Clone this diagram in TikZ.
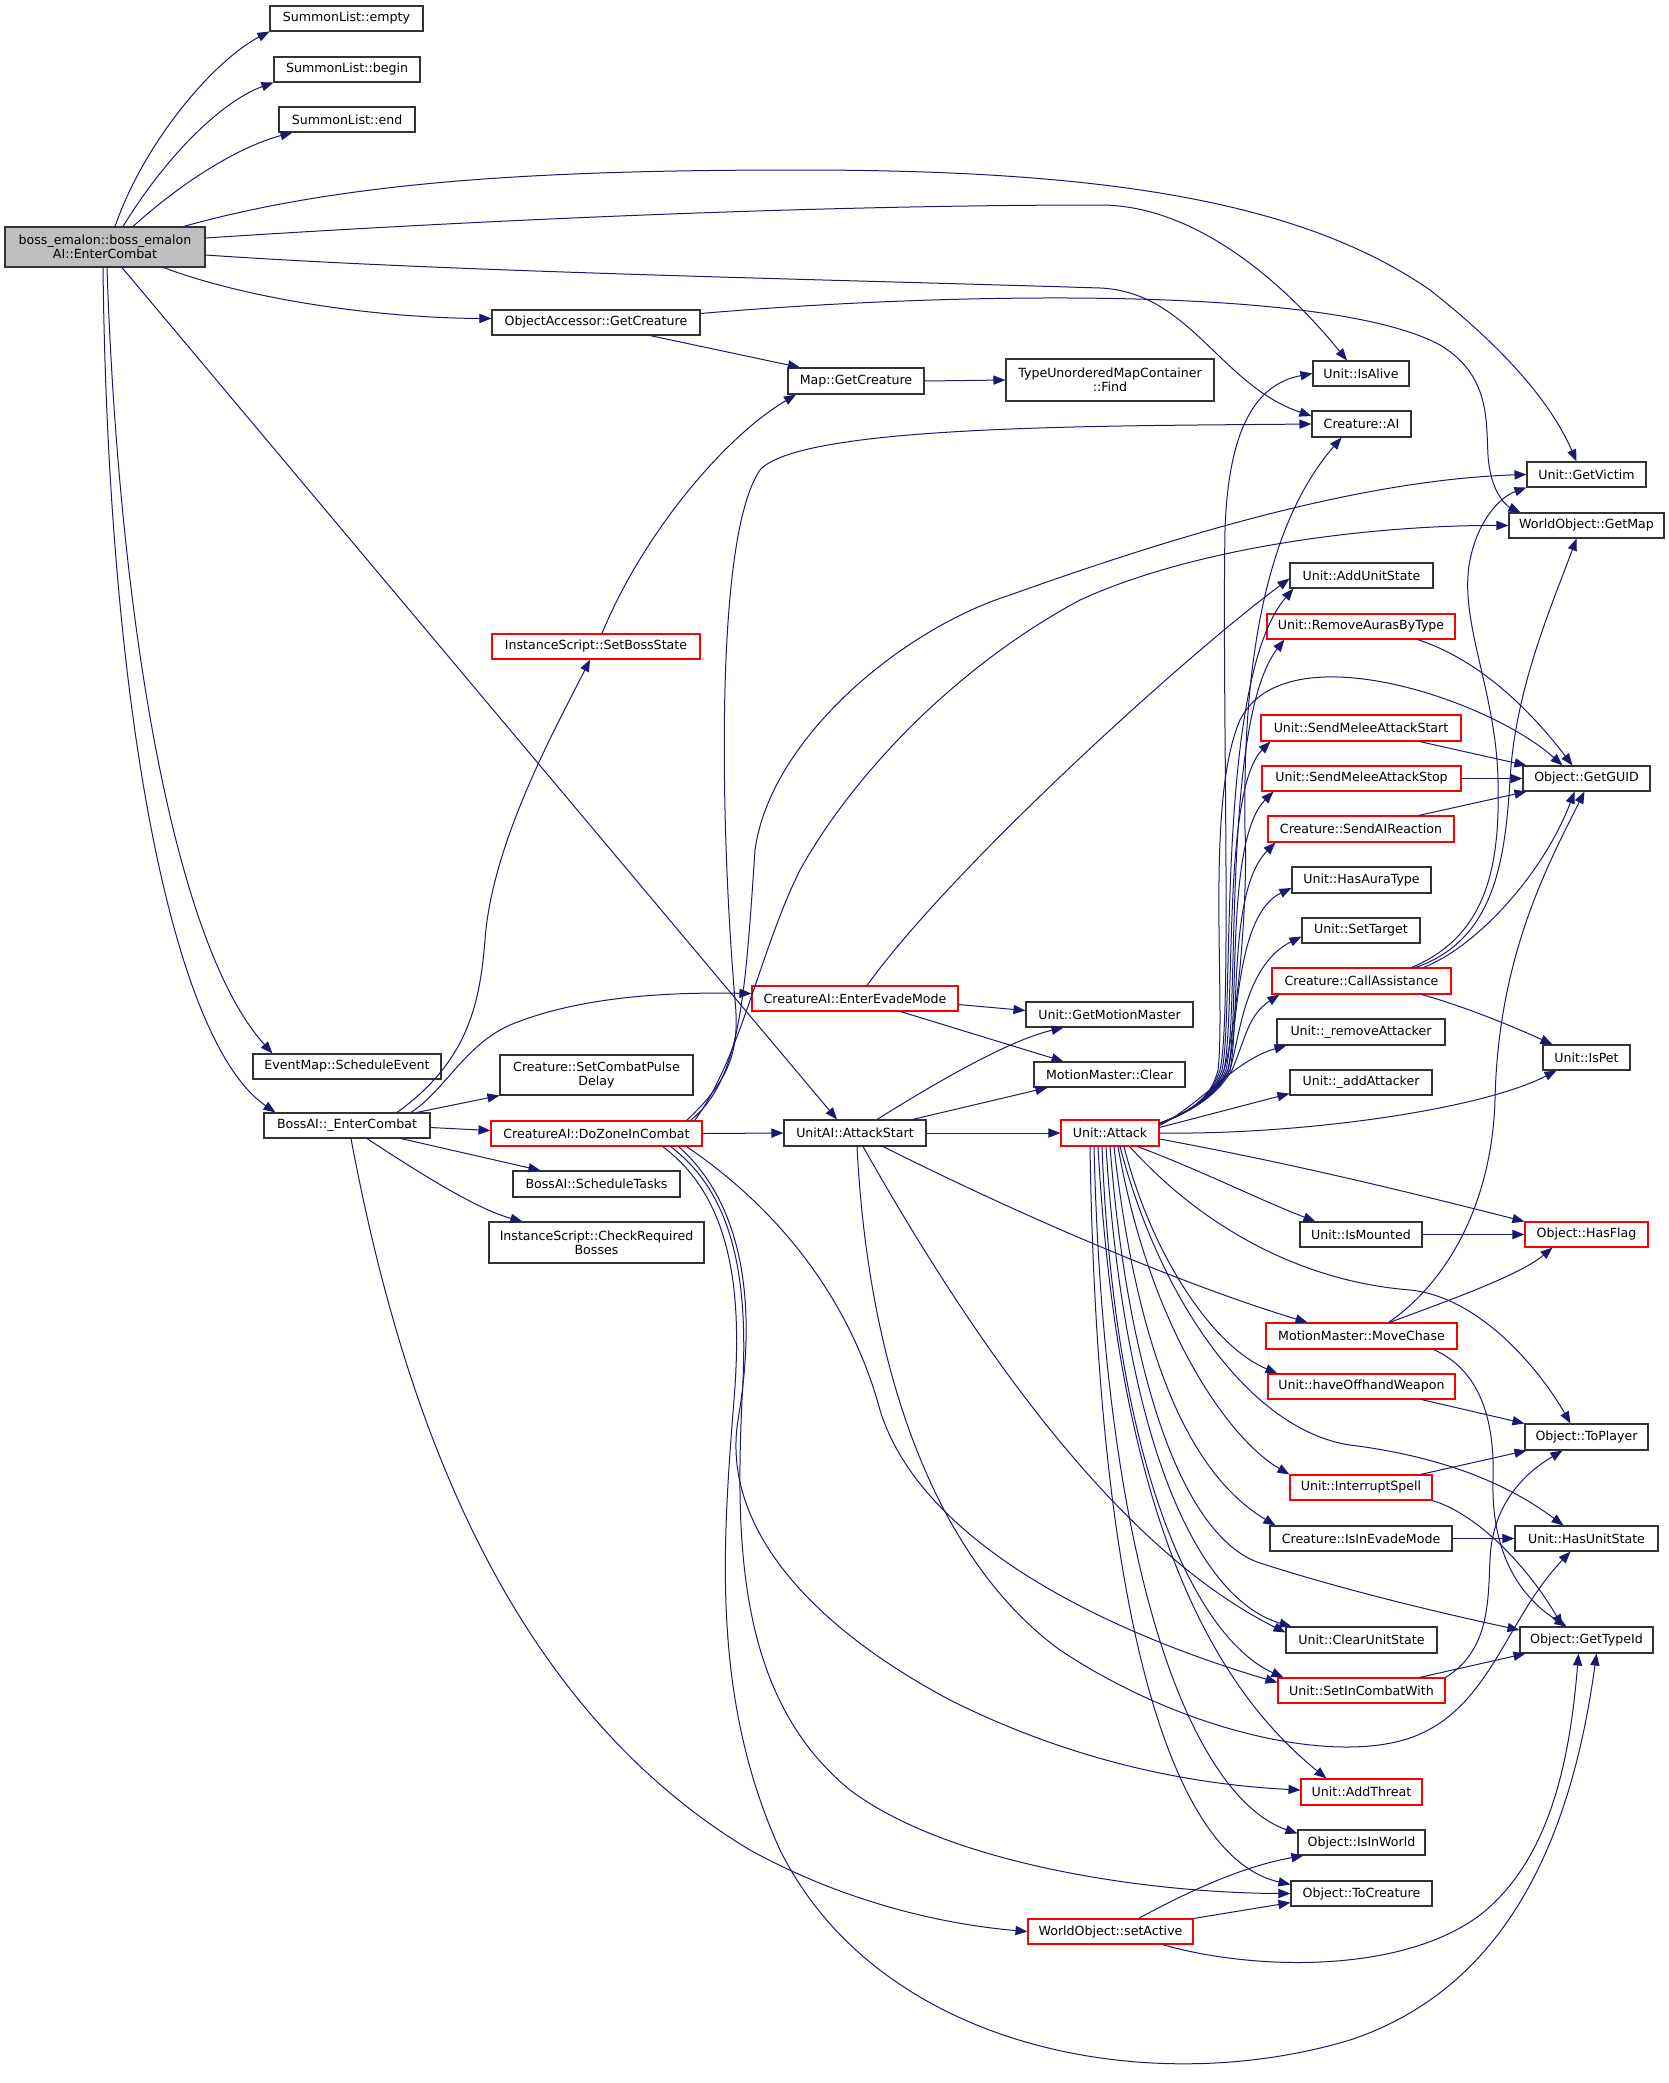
\documentclass[tikz,border=0pt]{standalone}
\usepackage{fontspec}
\setmainfont{DejaVu Sans}
\usetikzlibrary{arrows.meta}
\definecolor{edgecol}{RGB}{25,25,112}
\definecolor{nodegray}{RGB}{191,191,191}
\definecolor{nodered}{RGB}{255,0,0}
\newcommand{\mybox}[7]{\node[#2, minimum width={(#5-#3)*0.5pt}, minimum height={(#6-#4)*0.5pt}] (#1) at ({(#3+#5)/2},{(#4+#6)/2}) {#7};}
\tikzset{
 box/.style={draw=black!80, line width=0.55pt, fill=white, inner sep=0pt, align=center, font=\fontsize{6.3}{7}\selectfont},
 redbox/.style={box, draw=nodered},
 mainbox/.style={box, fill=nodegray},
 ed/.style={draw=edgecol, line width=0.5pt, -{Triangle[length=6pt,width=4.6pt]}},
}
\begin{document}
\begin{tikzpicture}[x=0.5pt,y=-0.5pt]
\fill[white] (0,0) rectangle (1669,2083);
\useasboundingbox (0,0) rectangle (1669,2083);
% nodes
\mybox{E}{mainbox}{5}{227}{205}{267}{boss\_emalon::boss\_emalon\\AI::EnterCombat}
\mybox{SLe}{box}{270}{6}{423}{31}{SummonList::empty}
\mybox{SLb}{box}{274}{57}{420}{82}{SummonList::begin}
\mybox{SLn}{box}{279}{107}{415}{132}{SummonList::end}
\mybox{OAGC}{box}{492}{310}{700}{335}{ObjectAccessor::GetCreature}
\mybox{MapGC}{box}{788}{368}{924}{394}{Map::GetCreature}
\mybox{TUMC}{box}{1006}{359}{1214}{401}{TypeUnorderedMapContainer\\::Find}
\mybox{IsAlive}{box}{1313}{361}{1409}{386}{Unit::IsAlive}
\mybox{AI}{box}{1312}{411}{1411}{437}{Creature::AI}
\mybox{GetVictim}{box}{1527}{462}{1646}{487}{Unit::GetVictim}
\mybox{GetMap}{box}{1509}{513}{1664}{538}{WorldObject::GetMap}
\mybox{AddUnitState}{box}{1290}{563}{1433}{588}{Unit::AddUnitState}
\mybox{RemoveAuras}{redbox}{1267}{614}{1455}{639}{Unit::RemoveAurasByType}
\mybox{SetBossState}{redbox}{492}{634}{700}{659}{InstanceScript::SetBossState}
\mybox{SMAStart}{redbox}{1261}{715}{1461}{741}{Unit::SendMeleeAttackStart}
\mybox{GetGUID}{box}{1523}{766}{1650}{791}{Object::GetGUID}
\mybox{SMAStop}{redbox}{1262}{766}{1461}{791}{Unit::SendMeleeAttackStop}
\mybox{SendAIReaction}{redbox}{1268}{816}{1454}{842}{Creature::SendAIReaction}
\mybox{HasAuraType}{box}{1292}{867}{1431}{893}{Unit::HasAuraType}
\mybox{SetTarget}{box}{1302}{918}{1420}{943}{Unit::SetTarget}
\mybox{CallAssistance}{redbox}{1272}{968}{1451}{994}{Creature::CallAssistance}
\mybox{EEM}{redbox}{752}{986}{958}{1011}{CreatureAI::EnterEvadeMode}
\mybox{GMM}{box}{1026}{1002}{1193}{1027}{Unit::GetMotionMaster}
\mybox{removeAttacker}{box}{1277}{1019}{1445}{1045}{Unit::\_removeAttacker}
\mybox{IsPet}{box}{1543}{1045}{1630}{1070}{Unit::IsPet}
\mybox{EventMap}{box}{253}{1054}{441}{1079}{EventMap::ScheduleEvent}
\mybox{SetCombatPulse}{box}{500}{1055}{693}{1095}{Creature::SetCombatPulse\\Delay}
\mybox{MMClear}{box}{1034}{1062}{1185}{1087}{MotionMaster::Clear}
\mybox{addAttacker}{box}{1290}{1070}{1432}{1095}{Unit::\_addAttacker}
\mybox{BossAI}{box}{264}{1113}{430}{1138}{BossAI::\_EnterCombat}
\mybox{DZ}{redbox}{491}{1121}{702}{1146}{CreatureAI::DoZoneInCombat}
\mybox{UA}{box}{784}{1120}{926}{1146}{UnitAI::AttackStart}
\mybox{Attack}{redbox}{1061}{1120}{1159}{1146}{Unit::Attack}
\mybox{SchedTasks}{box}{513}{1171}{680}{1197}{BossAI::ScheduleTasks}
\mybox{CheckReq}{box}{489}{1222}{704}{1263}{InstanceScript::CheckRequired\\Bosses}
\mybox{IsMounted}{box}{1300}{1222}{1422}{1247}{Unit::IsMounted}
\mybox{HasFlag}{redbox}{1525}{1222}{1648}{1247}{Object::HasFlag}
\mybox{MoveChase}{redbox}{1266}{1323}{1457}{1349}{MotionMaster::MoveChase}
\mybox{haveOffhand}{redbox}{1268}{1374}{1455}{1399}{Unit::haveOffhandWeapon}
\mybox{ToPlayer}{box}{1525}{1424}{1648}{1450}{Object::ToPlayer}
\mybox{InterruptSpell}{redbox}{1290}{1475}{1432}{1500}{Unit::InterruptSpell}
\mybox{IsInEvadeMode}{box}{1270}{1526}{1452}{1551}{Creature::IsInEvadeMode}
\mybox{HasUnitState}{box}{1515}{1526}{1658}{1551}{Unit::HasUnitState}
\mybox{ClearUnitState}{box}{1286}{1627}{1437}{1653}{Unit::ClearUnitState}
\mybox{GetTypeId}{box}{1520}{1627}{1653}{1653}{Object::GetTypeId}
\mybox{SetInCombatWith}{redbox}{1278}{1678}{1445}{1703}{Unit::SetInCombatWith}
\mybox{AddThreat}{redbox}{1301}{1779}{1422}{1805}{Unit::AddThreat}
\mybox{IsInWorld}{box}{1298}{1830}{1425}{1855}{Object::IsInWorld}
\mybox{ToCreature}{box}{1291}{1881}{1432}{1906}{Object::ToCreature}
\mybox{setActive}{redbox}{1028}{1919}{1193}{1944}{WorldObject::setActive}
% edges from boss_emalon
\draw[ed] ([xshift=5pt]E.north) .. controls (145,140) and (215,60) .. (SLe.south west);
\draw[ed] ([xshift=9pt]E.north) .. controls (170,150) and (225,100) .. (SLb.south west);
\draw[ed] ([xshift=14pt]E.north) .. controls (190,175) and (245,145) .. ([xshift=7pt]SLn.south west);
\draw[ed] ([xshift=-11pt]E.north east) .. controls (350,180) and (550,170) .. (800,170) .. controls (1100,170) and (1300,200) .. (1430,290) .. controls (1500,345) and (1550,400) .. ([xshift=-5pt]GetVictim.north);
\draw[ed] ([yshift=4.5pt]E.east) .. controls (450,222) and (800,205) .. (1100,205) .. controls (1200,205) and (1290,290) .. ([xshift=-7pt]IsAlive.north);
\draw[ed] ([yshift=-4pt]E.east) .. controls (450,272) and (850,280) .. (1100,288) .. controls (1190,292) and (1220,385) .. ([yshift=4pt]AI.west);
\draw[ed] ([xshift=-21pt]E.south east) .. controls (250,300) and (380,318) .. ([yshift=2pt]OAGC.west);
\draw[ed] ([xshift=8.5pt]E.south) -- ([xshift=-9pt]UA.north);
\draw[ed] ([xshift=1pt]E.south) .. controls (118,600) and (170,940) .. ([xshift=10pt]EventMap.north west);
\draw[ed] ([xshift=-1pt]E.south) .. controls (108,700) and (170,1040) .. ([xshift=6pt]BossAI.north west);
% ObjectAccessor / Map
\draw[ed] ([xshift=27pt]OAGC.south) -- ([xshift=-28pt]MapGC.north);
\draw[ed] ([yshift=4.5pt]OAGC.east) .. controls (950,292) and (1330,285) .. (1440,345) .. controls (1490,375) and (1486,420) .. (1488,455) .. controls (1490,490) and (1505,505) .. ([xshift=6pt]GetMap.north west);
\draw[ed] (MapGC.east) -- (TUMC.west);
\draw[ed] ([xshift=3pt]SetBossState.north) .. controls (640,540) and (720,440) .. ([xshift=-30pt]MapGC.south);
% BossAI
\draw[ed] ([xshift=25pt]BossAI.north) .. controls (470,1060) and (480,1000) .. (485,940) .. controls (492,840) and (560,720) .. ([xshift=-3pt]SetBossState.south);
\draw[ed] ([xshift=32pt]BossAI.north) .. controls (445,1090) and (465,1045) .. (510,1025) .. controls (580,996) and (670,992) .. ([yshift=2.5pt]EEM.west);
\draw[ed] ([xshift=-7pt]BossAI.north east) -- (SetCombatPulse.south west);
\draw[ed] ([yshift=-1pt]BossAI.east) -- ([yshift=1.5pt]DZ.west);
\draw[ed] ([xshift=27pt]BossAI.south) -- ([xshift=14pt]SchedTasks.north west);
\draw[ed] ([xshift=10pt]BossAI.south) .. controls (430,1180) and (480,1210) .. ([xshift=17pt]CheckReq.north west);
\draw[ed] ([xshift=2pt]BossAI.south) .. controls (400,1400) and (500,1700) .. (750,1850) .. controls (850,1905) and (950,1925) .. (setActive.west);
% DoZoneInCombat
\draw[ed] (DZ.east) -- (UA.west);
\draw[ed] ([xshift=-8pt]DZ.north east) .. controls (730,1080) and (740,1050) .. (735,1000) .. controls (722,850) and (712,540) .. (760,470) .. controls (800,425) and (1100,426) .. (AI.west);
\draw[ed] ([xshift=-6pt]DZ.north east) .. controls (740,1080) and (745,1000) .. (755,850) .. controls (770,740) and (900,630) .. (1010,595) .. controls (1150,545) and (1350,480) .. (GetVictim.west);
\draw[ed] ([xshift=-4pt]DZ.north east) .. controls (740,1060) and (760,950) .. (800,870) .. controls (850,780) and (950,670) .. (1080,600) .. controls (1200,545) and (1380,525) .. (GetMap.west);
\draw[ed] ([xshift=-8pt]DZ.south east) .. controls (780,1210) and (850,1300) .. (880,1410) .. controls (920,1540) and (1100,1630) .. ([yshift=4pt]SetInCombatWith.west);
\draw[ed] ([xshift=-12pt]DZ.south east) .. controls (750,1210) and (755,1320) .. (738,1420) .. controls (722,1520) and (800,1620) .. (950,1700) .. controls (1080,1765) and (1200,1785) .. ([yshift=1pt]AddThreat.west);
\draw[ed] ([xshift=-16pt]DZ.south east) .. controls (742,1200) and (748,1300) .. (742,1400) .. controls (735,1550) and (740,1700) .. (850,1790) .. controls (950,1865) and (1150,1893) .. (ToCreature.west);
\draw[ed] ([xshift=-20pt]DZ.south east) .. controls (735,1200) and (742,1300) .. (734,1400) .. controls (722,1550) and (712,1700) .. (780,1850) .. controls (880,2050) and (1150,2100) .. (1350,2040) .. controls (1500,1990) and (1570,1850) .. ([xshift=5pt]GetTypeId.south);
% UnitAI::AttackStart
\draw[ed] (UA.east) -- (Attack.west);
\draw[ed] ([xshift=11pt]UA.north) .. controls (940,1080) and (1010,1040) .. ([xshift=-23pt]GMM.south);
\draw[ed] ([xshift=-7pt]UA.north east) -- ([xshift=-31pt]MMClear.south);
\draw[ed] ([xshift=14pt]UA.south) .. controls (1050,1230) and (1200,1290) .. ([xshift=-27pt]MoveChase.north);
\draw[ed] ([xshift=4pt]UA.south) .. controls (950,1300) and (1100,1540) .. ([yshift=-3pt]ClearUnitState.north west);
\draw[ed] ([xshift=1pt]UA.south) .. controls (870,1400) and (950,1570) .. (1060,1650) .. controls (1180,1730) and (1330,1765) .. (1410,1738) .. controls (1490,1710) and (1505,1620) .. ([xshift=-8pt]HasUnitState.south);
% EnterEvadeMode
\draw[ed] ([yshift=-3pt]EEM.east) -- ([yshift=2pt]GMM.west);
\draw[ed] ([xshift=-29pt]EEM.south east) -- ([xshift=-23pt]MMClear.north);
\draw[ed] ([xshift=6pt]EEM.north) .. controls (950,870) and (1180,660) .. ([yshift=5pt]AddUnitState.south west);
% Unit::Attack fan upwards
\draw[ed] ([yshift=-2pt]Attack.north east) .. controls (1195,1110) and (1212,1095) .. (1220,1070) .. controls (1232,1020) and (1222,700) .. (1225,530) .. controls (1228,440) and (1250,385) .. (IsAlive.west);
\draw[ed] ([yshift=-2pt]Attack.north east) .. controls (1195,1110) and (1214,1095) .. (1224,1070) .. controls (1238,1020) and (1248,900) .. (1245,830) .. controls (1242,650) and (1270,520) .. ([xshift=-10pt]AI.south);
\draw[ed] ([yshift=-2pt]Attack.north east) .. controls (1195,1110) and (1213,1095) .. (1222,1070) .. controls (1235,1010) and (1215,680) .. ([xshift=2pt]AddUnitState.south west);
\draw[ed] ([yshift=-2pt]Attack.north east) .. controls (1195,1110) and (1215,1095) .. (1226,1070) .. controls (1240,1010) and (1222,720) .. ([xshift=9pt]RemoveAuras.south west);
\draw[ed] ([yshift=-2pt]Attack.north east) .. controls (1195,1110) and (1212,1095) .. (1218,1070) .. controls (1226,1000) and (1205,800) .. (1240,720) .. controls (1285,630) and (1490,700) .. ([xshift=-12pt]GetGUID.north);
\draw[ed] ([yshift=-2pt]Attack.north east) .. controls (1195,1110) and (1214,1095) .. (1224,1070) .. controls (1236,1010) and (1222,790) .. ([xshift=5pt]SMAStart.south west);
\draw[ed] ([yshift=-2pt]Attack.north east) .. controls (1195,1110) and (1215,1095) .. (1228,1070) .. controls (1240,1015) and (1225,840) .. ([xshift=6pt]SMAStop.south west);
\draw[ed] ([yshift=-2pt]Attack.north east) .. controls (1195,1110) and (1215,1095) .. (1230,1070) .. controls (1240,1020) and (1228,890) .. ([xshift=4pt]SendAIReaction.south west);
\draw[ed] ([yshift=-2pt]Attack.north east) .. controls (1195,1110) and (1216,1095) .. (1228,1070) .. controls (1238,1030) and (1235,915) .. ([yshift=-4pt]HasAuraType.west);
\draw[ed] ([yshift=-2pt]Attack.north east) .. controls (1195,1110) and (1216,1095) .. (1230,1070) .. controls (1240,1035) and (1245,965) .. ([yshift=-3pt]SetTarget.west);
\draw[ed] ([yshift=-2pt]Attack.north east) .. controls (1195,1110) and (1217,1095) .. (1232,1070) .. controls (1245,1040) and (1248,1015) .. ([xshift=4pt]CallAssistance.south west);
\draw[ed] ([yshift=-3pt]Attack.north east) .. controls (1200,1105) and (1235,1060) .. ([xshift=5pt]removeAttacker.south west);
\draw[ed] ([yshift=-4pt]Attack.north east) -- ([yshift=1pt]addAttacker.south west);
\draw[ed] (Attack.east) .. controls (1300,1135) and (1480,1110) .. ([xshift=-15pt]IsPet.south);
\draw[ed] ([yshift=-3pt]Attack.east) .. controls (1300,1165) and (1420,1195) .. (HasFlag.north west);
% Unit::Attack downwards
\draw[ed] ([xshift=-11pt]Attack.south east) .. controls (1200,1170) and (1260,1200) .. ([xshift=8pt]IsMounted.north west);
\draw[ed] ([xshift=-15pt]Attack.south east) .. controls (1210,1235) and (1310,1282) .. (1410,1290) .. controls (1480,1297) and (1540,1370) .. ([xshift=-8pt]ToPlayer.north);
\draw[ed] ([xshift=7pt]Attack.south) .. controls (1150,1250) and (1210,1345) .. ([xshift=5pt]haveOffhand.north west);
\draw[ed] ([xshift=4pt]Attack.south) .. controls (1150,1330) and (1230,1440) .. (InterruptSpell.north west);
\draw[ed] ([xshift=2pt]Attack.south) .. controls (1140,1380) and (1200,1480) .. ([xshift=3pt]IsInEvadeMode.north west);
\draw[ed] ([xshift=5pt]Attack.south) .. controls (1160,1300) and (1250,1430) .. (1350,1445) .. controls (1430,1455) and (1500,1478) .. ([xshift=-11.5pt]HasUnitState.north);
\draw[ed] (Attack.south) .. controls (1130,1400) and (1190,1540) .. (1260,1563) .. controls (1350,1592) and (1450,1615) .. ([yshift=5pt]GetTypeId.west);
\draw[ed] ([xshift=-2pt]Attack.south) .. controls (1125,1450) and (1200,1600) .. ([xshift=3pt]ClearUnitState.north west);
\draw[ed] ([xshift=-4pt]Attack.south) .. controls (1115,1480) and (1200,1640) .. ([xshift=3pt]SetInCombatWith.north west);
\draw[ed] ([xshift=-6pt]Attack.south) .. controls (1120,1550) and (1230,1700) .. ([xshift=13pt]AddThreat.north west);
\draw[ed] ([xshift=-8pt]Attack.south) .. controls (1105,1600) and (1200,1800) .. ([yshift=-2pt]IsInWorld.north west);
\draw[ed] ([xshift=-10pt]Attack.south) .. controls (1098,1650) and (1180,1860) .. ([yshift=-2pt]ToCreature.north west);
% CallAssistance
\draw[ed] ([xshift=-20pt]CallAssistance.north east) .. controls (1490,935) and (1500,860) .. (1498,780) .. controls (1496,690) and (1458,620) .. (1470,560) .. controls (1478,520) and (1500,497) .. (GetVictim.south west);
\draw[ed] ([xshift=-18pt]CallAssistance.north east) .. controls (1495,940) and (1505,860) .. (1510,780) .. controls (1515,690) and (1550,610) .. ([xshift=-5pt]GetMap.south);
\draw[ed] ([xshift=-14pt]CallAssistance.north east) .. controls (1480,945) and (1545,870) .. ([xshift=-6pt]GetGUID.south);
\draw[ed] ([xshift=-15pt]CallAssistance.south east) .. controls (1460,1005) and (1510,1025) .. ([xshift=5pt]IsPet.north west);
% MoveChase
\draw[ed] ([xshift=13.5pt]MoveChase.north) .. controls (1450,1280) and (1492,1200) .. (1495,1100) .. controls (1498,960) and (1545,870) .. ([xshift=-1pt]GetGUID.south);
\draw[ed] ([xshift=14pt]MoveChase.north) .. controls (1450,1300) and (1520,1275) .. ([xshift=-17pt]HasFlag.south);
\draw[ed] ([xshift=-12pt]MoveChase.south east) .. controls (1480,1370) and (1495,1420) .. (1493,1480) .. controls (1491,1560) and (1525,1600) .. ([xshift=-10pt]GetTypeId.north);
% GetGUID callers
\draw[ed] ([xshift=-19pt]RemoveAuras.south east) .. controls (1480,660) and (1530,710) .. ([xshift=-7pt]GetGUID.north);
\draw[ed] ([xshift=-21pt]SMAStart.south east) -- ([xshift=2pt]GetGUID.north west);
\draw[ed] (SMAStop.east) -- (GetGUID.west);
\draw[ed] ([xshift=-18pt]SendAIReaction.north east) -- ([xshift=2pt]GetGUID.south west);
% others
\draw[ed] (IsMounted.east) -- (HasFlag.west);
\draw[ed] ([xshift=-17pt]haveOffhand.south east) -- (ToPlayer.north west);
\draw[ed] ([xshift=-6pt]InterruptSpell.north east) -- ([xshift=1pt]ToPlayer.south west);
\draw[ed] (InterruptSpell.south east) .. controls (1480,1515) and (1530,1570) .. ([xshift=-12pt]GetTypeId.north);
\draw[ed] (IsInEvadeMode.east) -- (HasUnitState.west);
\draw[ed] ([xshift=-13pt]SetInCombatWith.north east) -- ([xshift=3pt]GetTypeId.south west);
\draw[ed] (SetInCombatWith.north east) .. controls (1490,1650) and (1488,1600) .. (1490,1560) .. controls (1492,1500) and (1530,1470) .. ([xshift=-12pt]ToPlayer.south);
% setActive
\draw[ed] ([xshift=14pt]setActive.north) .. controls (1200,1885) and (1250,1865) .. ([xshift=3pt]IsInWorld.south west);
\draw[ed] (setActive.north east) -- ([yshift=2pt]ToCreature.south west);
\draw[ed] ([xshift=26pt]setActive.south) .. controls (1250,1970) and (1400,1975) .. (1480,1915) .. controls (1550,1860) and (1570,1760) .. ([xshift=-4pt]GetTypeId.south);
\end{tikzpicture}
\end{document}
